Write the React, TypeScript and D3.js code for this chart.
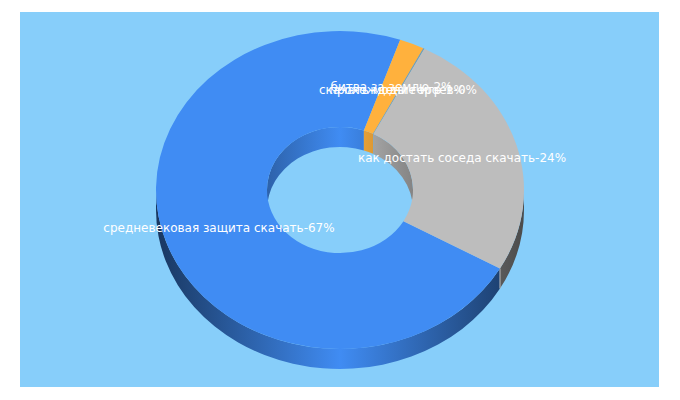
import * as d3 from "d3";

// slices run clockwise, starting from the big blue one
const sliceNames = [
  "средневековая защита скачать",
  "битва за землю",
  "скачать моды героев",
  "прохождение игр",
  "как достать соседа скачать",
];
const sliceValues = [67, 2.02, 0.05, 0.05, 23.83];
const sliceLabels = ["67%", "2%", "0%", "1%", "24%"];
const sliceColors = ["#408cf3", "#ffb13d", "#6f8f9f", "#6f8f9f", "#bdbdbd"];
// where the label text sits, in chart units
const labelX = [219, 391.5, 398, 397, 462];
const labelY = [232, 91, 94, 94, 162];

const width = 680;
const height = 400;
const cx = 340;
const cy = 190;
const rx = 184;
const ry = 159;
const innerRx = 73;
const depth = 20;
const ratio = ry / rx;
const startDeg = 119.6;

const rad = (deg: number) => (deg * Math.PI) / 180;

const pie = d3
  .pie<number>()
  .sort(null)
  .startAngle(rad(startDeg))
  .endAngle(rad(startDeg + 360));
const slices = pie(sliceValues);

const arcGen = d3.arc<d3.PieArcDatum<number>>().innerRadius(innerRx).outerRadius(rx);

const pt = (a: number, r: number, dy = 0) => [
  cx + r * Math.sin(a),
  cy - r * ratio * Math.cos(a) + dy,
];

// band between the top edge and the same edge pushed down by depth
function wall(a0: number, a1: number, r: number) {
  const [x0, y0] = pt(a0, r);
  const [x1, y1] = pt(a1, r);
  const ryy = r * ratio;
  return `M${x0},${y0}A${r},${ryy} 0 0 1 ${x1},${y1}L${x1},${y1 + depth}A${r},${ryy} 0 0 0 ${x0},${y0 + depth}Z`;
}

function clampRanges(a0: number, a1: number, ranges: number[][]) {
  return ranges
    .map(([lo, hi]) => [Math.max(a0, rad(lo)), Math.min(a1, rad(hi))])
    .filter(([lo, hi]) => hi > lo);
}

const outerVisible = [[90, 270], [450, 630]];
const innerVisible = [[270, 450]];

const shade = (color: string, k: number) => d3.rgb(color).darker(k).formatHex();

function WallGradient({ id, color, r, low }: { id: string; color: string; r: number; low: number }) {
  return (
    <linearGradient id={id} gradientUnits="userSpaceOnUse" x1={cx - r} x2={cx + r} y1={0} y2={0}>
      <stop offset="0%" stopColor={shade(color, low)} />
      <stop offset="50%" stopColor={color} />
      <stop offset="100%" stopColor={shade(color, low)} />
    </linearGradient>
  );
}

export default function App() {
  // seam where the grey wall meets the blue one
  const [seamX, seamY] = pt(slices[0].startAngle, rx);
  return (
    <svg
      width={width}
      height={height}
      style={{ position: "absolute", left: 0, top: 0 }}
      fontFamily="'DejaVu Sans', sans-serif"
    >
      <defs>
        {sliceColors.map((c, i) => (
          <g key={i}>
            <WallGradient id={`outer${i}`} color={c} r={rx} low={2.6} />
            <WallGradient id={`inner${i}`} color={c} r={innerRx} low={1} />
          </g>
        ))}
      </defs>
      <rect x={20} y={12} width={639} height={375} fill="#87cefa" />

      {/* inner wall, back of the hole */}
      {slices.map((s, i) =>
        clampRanges(s.startAngle, s.endAngle, innerVisible).map(([a, b], j) => (
          <path key={`in${i}-${j}`} d={wall(a, b, innerRx)} fill={`url(#inner${i})`} />
        ))
      )}

      {/* outer wall, front half */}
      {slices.map((s, i) =>
        clampRanges(s.startAngle, s.endAngle, outerVisible).map(([a, b], j) => (
          <path key={`out${i}-${j}`} d={wall(a, b, rx)} fill={`url(#outer${i})`} />
        ))
      )}
      <line x1={seamX} x2={seamX} y1={seamY} y2={seamY + depth} stroke="#bdbdbd" strokeWidth={1} />

      {/* top surface */}
      <g transform={`translate(${cx},${cy}) scale(1,${ratio})`}>
        {slices.map((s, i) => (
          <path key={i} d={arcGen(s) ?? ""} fill={sliceColors[i]} />
        ))}
      </g>

      {sliceNames.map((name, i) => (
        <text key={i} x={labelX[i]} y={labelY[i]} textAnchor="middle" fontSize={12} fill="#ffffff">
          {`${name}-${sliceLabels[i]}`}
        </text>
      ))}
    </svg>
  );
}
